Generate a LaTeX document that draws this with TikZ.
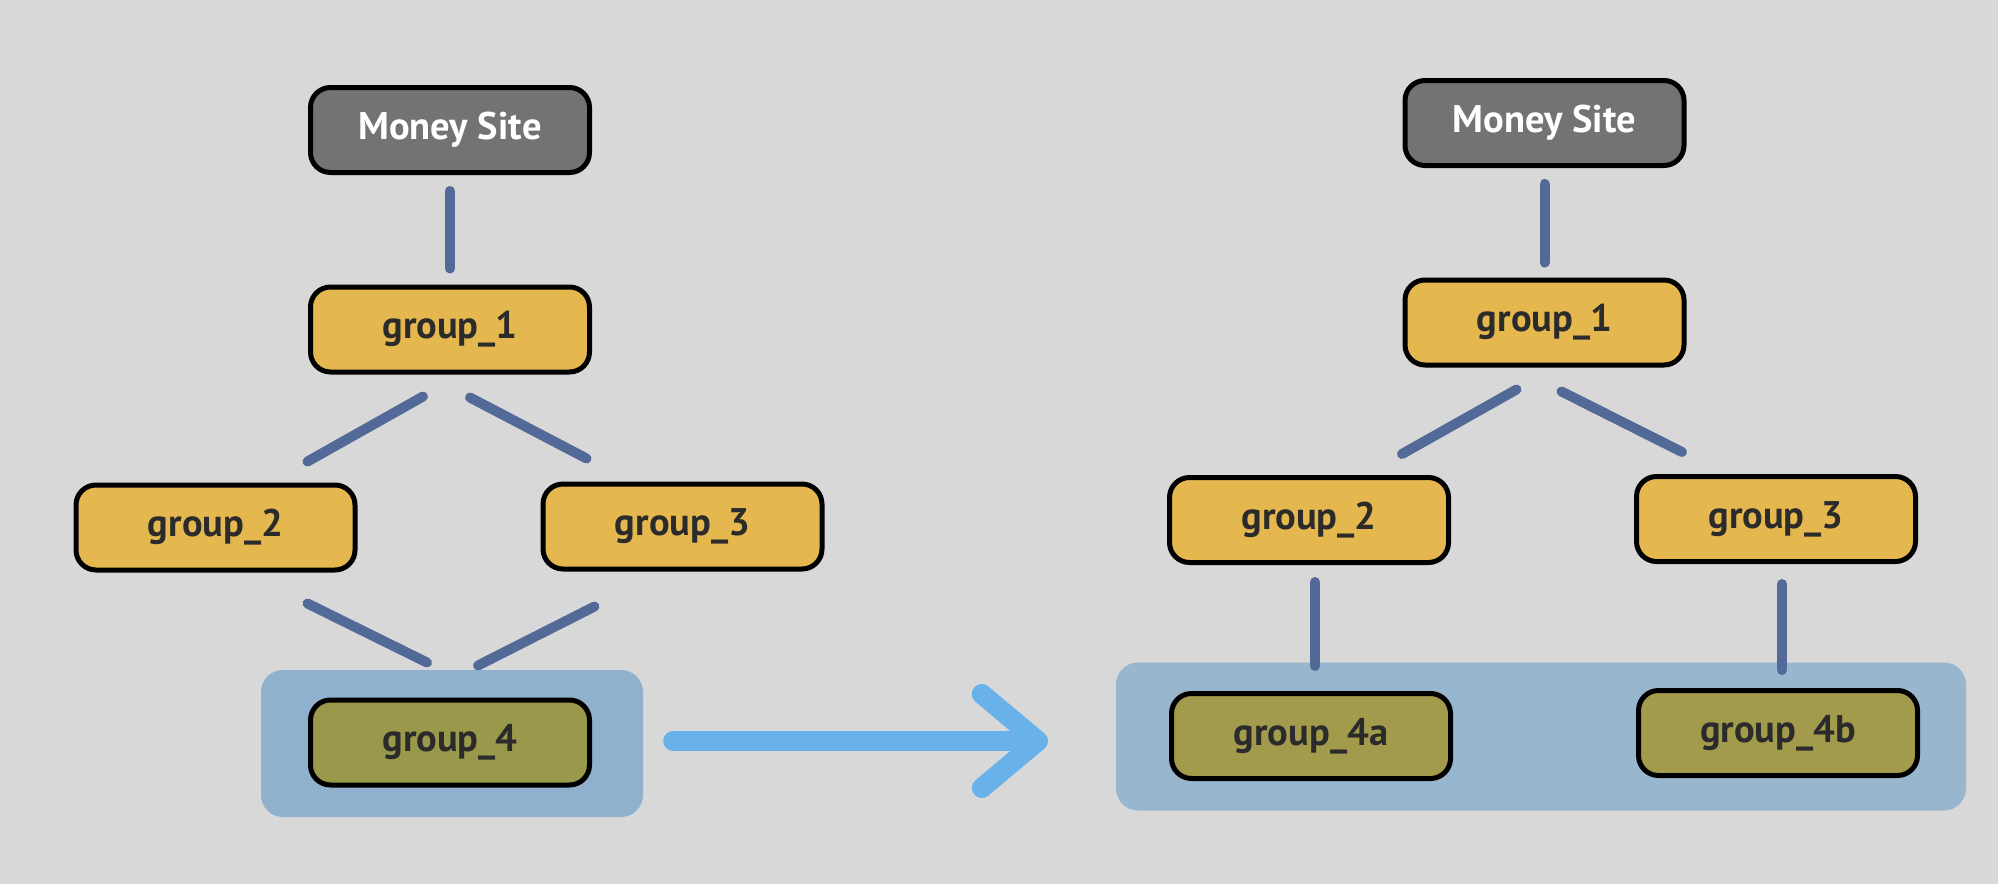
\documentclass[tikz,border=0pt]{standalone}
\usepackage{fontspec}
\setmainfont{PT Sans}
\usetikzlibrary{calc}
\definecolor{canvas}{HTML}{D8D8D8}
\definecolor{moneyfill}{HTML}{737373}
\definecolor{groupfill}{HTML}{E5B84F}
\definecolor{oliveL}{HTML}{9A984A}
\definecolor{oliveR}{HTML}{A39B4C}
\definecolor{panelL}{HTML}{8FB1CE}
\definecolor{panelR}{HTML}{99B6CF}
\definecolor{linkcol}{HTML}{536A99}
\definecolor{arrowcol}{HTML}{68B1E9}
\definecolor{labeltext}{HTML}{2B2B2B}
\begin{document}
\begin{tikzpicture}[x=1pt,y=-1pt,
  box/.style={draw=black, line width=5pt, rounded corners=20pt,
    minimum width=279pt, minimum height=85pt, inner sep=0pt,
    font=\fontsize{38.5}{44}\selectfont\bfseries, text=labeltext},
  moneybox/.style={box, fill=moneyfill, text=white},
  groupbox/.style={box, fill=groupfill},
  panel/.style={draw=none, rounded corners=22pt, inner sep=0pt},
  link/.style={draw=linkcol, line width=10pt, line cap=round},
  bigarrow/.style={draw=arrowcol, line width=20pt, line cap=round, line join=round}]
\fill[canvas] (0,0) rectangle (1998,884);
\useasboundingbox (0,0) rectangle (1998,884);

% ---------- left tree ----------
\node[panel, fill=panelL, minimum width=382pt, minimum height=147pt] (Lbg) at (452,743.5) {};
\node[moneybox] (Lms) at (450,130) {Money Site};
\node[groupbox] (Lg1) at (450,329.5) {group\_1};
\node[groupbox] (Lg2) at (215.5,527.5) {group\_2};
\node[groupbox] (Lg3) at (682.5,526.5) {group\_3};
\node[box, fill=oliveL] (Lg4) at (450,742.5) {group\_4};

\draw[link] ($(Lms.south)+(0,16)$) -- ($(Lg1.north)+(0,-16)$);
\draw[link] ($(Lg1.south)+(-27,22)$) -- ($(Lg2.north)+(92,-21)$);
\draw[link] ($(Lg1.south)+(20,23)$) -- ($(Lg3.north)+(-96,-23)$);
\draw[link] ($(Lg2.south)+(92,31)$) -- ($(Lg4.north)+(-23,-35)$);
\draw[link] ($(Lg3.south)+(-88,35)$) -- ($(Lg4.north)+(28,-32)$);

% ---------- right tree ----------
\node[panel, fill=panelR, minimum width=850pt, minimum height=148pt] (Rbg) at (1541,736.5) {};
\node[moneybox] (Rms) at (1544.5,123) {Money Site};
\node[groupbox] (Rg1) at (1544.5,322.5) {group\_1};
\node[groupbox] (Rg2) at (1309,520) {group\_2};
\node[groupbox] (Rg3) at (1776,519) {group\_3};
\node[box, fill=oliveR] (Rg4a) at (1311,736) {group\_4a};
\node[box, fill=oliveR] (Rg4b) at (1778,733) {group\_4b};

\draw[link] ($(Rms.south)+(0,16)$) -- ($(Rg1.north)+(0,-15)$);
\draw[link] ($(Rg1.south)+(-28,22)$) -- ($(Rg2.north)+(93,-21)$);
\draw[link] ($(Rg1.south)+(17,24)$) -- ($(Rg3.north)+(-94,-22)$);
\draw[link] ($(Rg2.south)+(6,17)$) -- ($(Rg4a.north)+(4,-25)$);
\draw[link] ($(Rg3.south)+(6,20)$) -- ($(Rg4b.north)+(4,-18)$);

% ---------- transition arrow ----------
\coordinate (aS) at ($(Lbg.east)+(30,-2.5)$);
\coordinate (aT) at ($(Rbg.west)+(-78,4.5)$);
\draw[bigarrow] (aS) -- (aT);
\draw[bigarrow] ($(aT)+(-56,-47)$) -- (aT) -- ($(aT)+(-56,47)$);
\end{tikzpicture}
\end{document}
